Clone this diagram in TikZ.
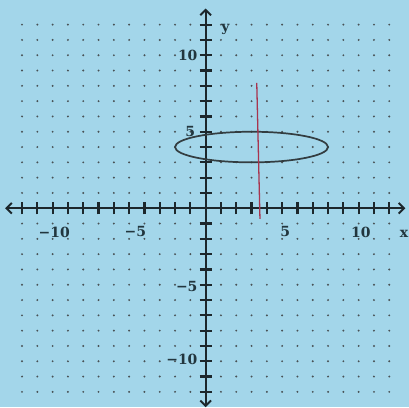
\documentclass[tikz,border=0pt]{standalone}
\usepackage{fontspec}
\setmainfont{DejaVu Serif}
\usetikzlibrary{arrows.meta}
\definecolor{sky}{HTML}{A3D6EA}
\definecolor{ink}{HTML}{1C272C}
\definecolor{lbl}{HTML}{22363E}
\definecolor{pen}{HTML}{A8344E}

\begin{document}
\begin{tikzpicture}[x=0.5cm,y=0.5cm, every node/.style={font=\fontsize{13}{13}\selectfont\bfseries,text=lbl,inner sep=1pt},
    axis/.style={ink,line width=1.7pt,{Straight Barb[length=5pt,width=10pt]}-{Straight Barb[length=5pt,width=10pt]}},
    tick/.style={ink,line width=2pt},
    curve/.style={ink!90,line width=1.6pt}]
    \fill[sky] (-13.44,-12.99) rectangle (13.29,13.61);
    \useasboundingbox (-13.44,-12.99) rectangle (13.29,13.61);
    % dotted grid
    \foreach \i in {-12,...,12} \foreach \j in {-12,...,12} \fill[ink!80] (\i,\j) circle (1pt);
    % axes
    \coordinate (xl) at (-13.1,0); \coordinate (xr) at (13.05,0);
    \coordinate (yb) at (0,-13); \coordinate (yt) at (0,13.05);
    \draw[axis] (xl)--(xr); \draw[axis] (yb)--(yt);
    \foreach \i in {-12,...,-1,1,2,...,12} {
      \draw[tick] (\i,-0.4)--(\i,0.4);
      \draw[tick] (-0.4,\i)--(0.4,\i);
    }
    \node (xm10) at (-9.9,-1.55) {−10}; \node (xm5) at (-4.6,-1.55) {−5};
    \node (xp5) at (5.2,-1.5) {5}; \node (xp10) at (10.15,-1.6) {10};
    \node[anchor=east] (yp10) at (-0.45,10) {10}; \node[anchor=east] (yp5) at (-0.6,5) {5};
    \node[anchor=east] (ym5) at (-0.45,-5.1) {−5}; \node[anchor=east] (ym10) at (-0.45,-9.9) {−10};
    \node (xlab) at (12.97,-1.65) {x}; \node (ylab) at (1.3,11.7) {y};
    % ellipse and the vertical line
    \draw[curve] (3,4) ellipse (5 and 1);
    \coordinate (top) at (3.34,8.2); \coordinate (bot) at (3.55,-0.7);
    \draw[pen,line width=1.2pt] (top)--(bot);
  \end{tikzpicture}
\end{document}
